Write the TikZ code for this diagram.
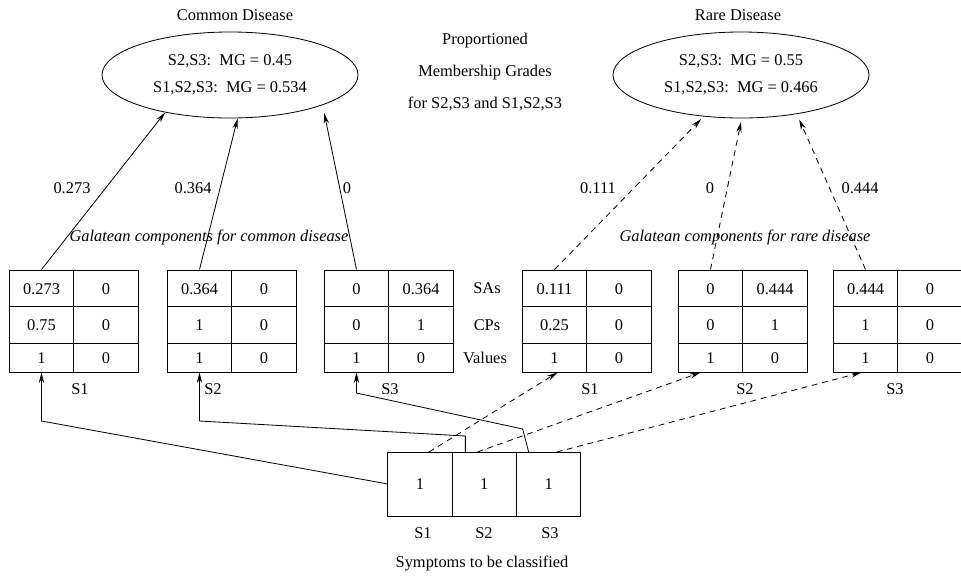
\documentclass[tikz,border=0pt]{standalone}
\usepackage{fontspec}
\setmainfont{Liberation Serif}
\usetikzlibrary{shapes.geometric,arrows.meta,calc,positioning}

\tikzset{
  every node/.style={font=\fontsize{14}{23}\selectfont},
  tabframe/.style={draw, line width=0.8pt, minimum width=3.87cm, minimum height=3.06cm, inner sep=0pt},
  disease/.style={draw, ellipse, line width=0.7pt, minimum width=7.68cm, minimum height=2.58cm, align=center, inner sep=0pt},
  symcell/.style={draw, line width=0.8pt, minimum width=1.93cm, minimum height=1.92cm, outer sep=0pt},
  garrow/.style={line width=0.7pt, -{Stealth[length=9pt,width=4.5pt]}},
  gdash/.style={garrow, dash pattern=on 5pt off 4pt},
}

% #1 name, #2 left x, #3-#8 SA, CP and value cells
\newcommand{\galtab}[8]{%
  \node[tabframe] (#1) at (#2+64.5,321) {};
  \draw[line width=0.8pt] (#1.north) -- (#1.south);
  \draw[line width=0.8pt] (#2,306) -- (#2+129,306);
  \draw[line width=0.8pt] (#2,343) -- (#2+129,343);
  \node (#1sa) at (#2+32.5,289) {#3};
  \node (#1sb) at (#2+97,289) {#4};
  \node (#1ca) at (#2+32.5,325) {#5};
  \node (#1cb) at (#2+97,325) {#6};
  \node (#1va) at (#2+32.5,358) {#7};
  \node (#1vb) at (#2+97,358) {#8};
}

\begin{document}
\begin{tikzpicture}[x=0.03cm, y=-0.03cm]
  \useasboundingbox (0,0) rectangle (961,577);

  % disease classes
  \node (cd) at (235,15) {Common Disease};
  \node (rd) at (738,15) {Rare Disease};
  \node[disease] (ce) at (230,75) {S2,S3:\ \ MG = 0.45\\S1,S2,S3:\ \ MG = 0.534};
  \node[disease] (re) at (741,75) {S2,S3:\ \ MG = 0.55\\S1,S2,S3:\ \ MG = 0.466};
  \node[align=center, font=\fontsize{14}{27}\selectfont] (pmg) at (485,72) {Proportioned\\Membership Grades\\for S2,S3 and S1,S2,S3};

  % galatean components
  \node (gc) at (209,237) {\textit{Galatean components for common disease}};
  \node (gr) at (745,237) {\textit{Galatean components for rare disease}};
  \galtab{t1}{9}{0.273}{0}{0.75}{0}{1}{0}
  \galtab{t2}{167}{0.364}{0}{1}{0}{1}{0}
  \galtab{t3}{324}{0}{0.364}{0}{1}{1}{0}
  \galtab{t4}{522}{0.111}{0}{0.25}{0}{1}{0}
  \galtab{t5}{678}{0}{0.444}{0}{1}{1}{0}
  \galtab{t6}{833}{0.444}{0}{1}{0}{1}{0}
  \node (sas) at (487,288) {SAs};
  \node (cps) at (487,325) {CPs};
  \node (vals) at (485,358) {Values};
  \node (l1) at (80,389) {S1};
  \node (l2) at (213,389) {S2};
  \node (l3) at (390,389) {S3};
  \node (l4) at (590,389) {S1};
  \node (l5) at (745,389) {S2};
  \node (l6) at (895,389) {S3};

  % grades on the arrows
  \node (w1) at (72,188) {0.273};
  \node (w2) at (193,188) {0.364};
  \node (w3) at (347,188) {0};
  \node (w4) at (598,188) {0.111};
  \node (w5) at (710,188) {0};
  \node (w6) at (860,188) {0.444};
  \draw[garrow] (t1sa |- t1.north) -- (ce.210);
  \draw[garrow] (t2sa |- t2.north) -- (ce.280);
  \draw[garrow, shorten >=7pt] (t3sa |- t3.north) -- (ce.342);
  \draw[gdash, shorten >=3pt] (t4sa |- t4.north) -- (re.228);
  \draw[gdash, shorten >=3pt] (t5sa |- t5.north) -- (re.271);
  \draw[gdash, shorten >=5pt] (t6sa |- t6.north) -- (re.325);

  % symptoms
  \node[symcell] (s1) at (420,484) {1};
  \node[symcell, right=0pt of s1] (s2) {1};
  \node[symcell, right=0pt of s2] (s3) {1};
  \node (n1) at (423,533) {S1};
  \node (n2) at (484,533) {S2};
  \node (n3) at (550,533) {S3};
  \node (stc) at (482,563) {Symptoms to be classified};
  \draw[garrow] (s1.west) -- (t1sa |- 0,421) -- (t1sa |- t1.south);
  \draw[garrow] ($(s2.north)+(-19,0)$) -- ++(0,-16) -- (t2sa |- 0,421) -- (t2sa |- t2.south);
  \draw[garrow] ($(s3.north)+(-20,0)$) -- ($(s3.north)+(-26,-23)$) -- (t3sa |- 0,393) -- (t3sa |- t3.south);
  \draw[gdash] ($(s1.north)+(9,0)$) -- ($(t4sa |- t4.south)+(3,0)$);
  \draw[gdash] ($(s2.north)+(-7,0)$) -- ($(t5sa |- t5.south)+(-10,0)$);
  \draw[gdash] ($(s3.north)+(8,0)$) -- ($(t6sa |- t6.south)+(-4,0)$);
\end{tikzpicture}
\end{document}
